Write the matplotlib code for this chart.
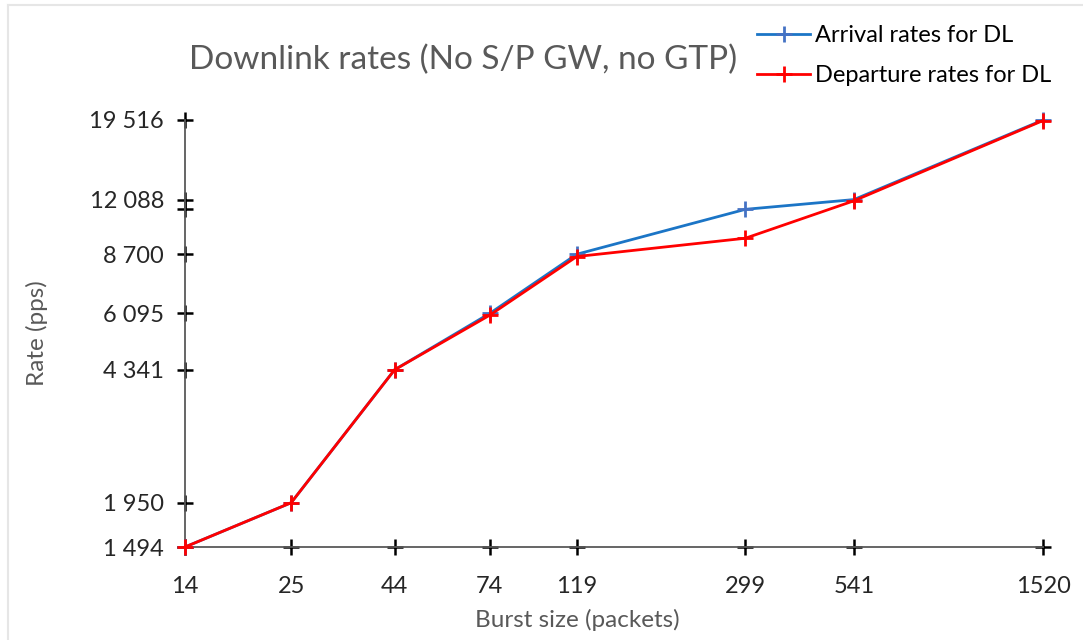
import matplotlib
matplotlib.use('Agg')
import matplotlib.pyplot as plt
from matplotlib.lines import Line2D

plt.rcParams['font.family'] = ['Lato', 'DejaVu Sans']

burst_sizes = [14, 25, 44, 74, 119, 299, 541, 1520]
arrival_rates = [1494, 1950, 4341, 6095, 8700, 11400, 12088, 19516]
departure_rates = [1494, 1950, 4341, 6030, 8580, 9580, 12000, 19450]
y_ticks = [1494, 1950, 4341, 6095, 8700, 11400, 12088, 19516]
y_tick_labels = ['1 494', '1 950', '4 341', '6 095', '8 700', '', '12 088', '19 516']

TEXT_GREY = '#595959'
W, H = 1083, 640

fig = plt.figure(figsize=(W / 100, H / 100), dpi=100)
ax = fig.add_axes([185 / W, 1 - 547 / H, (1043 - 185) / W, (547 - 120) / H])

ax.set_xscale('log')
ax.set_yscale('log')
ax.set_xlim(burst_sizes[0], burst_sizes[-1])
ax.set_ylim(y_ticks[0], y_ticks[-1])

ax.plot(burst_sizes, arrival_rates, color='#1B75C6', lw=2.0, marker='+',
        ms=12, mew=2, mec='#4472C4', label='Arrival rates for DL',
        clip_on=False, zorder=3)
ax.plot(burst_sizes, departure_rates, color='#FF0000', lw=2.0, marker='+',
        ms=12, mew=2, label='Departure rates for DL', clip_on=False, zorder=4)

# axis lines, ticks drawn as crosses like Excel
for s in ['top', 'right']:
    ax.spines[s].set_visible(False)
for s in ['left', 'bottom']:
    ax.spines[s].set_color(TEXT_GREY)
    ax.spines[s].set_linewidth(1.3)

ax.set_xticks(burst_sizes)
ax.set_xticklabels([str(b) for b in burst_sizes])
ax.set_yticks(y_ticks)
ax.set_yticklabels(y_tick_labels)
ax.minorticks_off()
ax.tick_params(axis='both', length=0, labelsize=17, colors='#262626')
ax.tick_params(axis='y', pad=15)
ax.tick_params(axis='x', pad=21)

ax.plot(burst_sizes, [y_ticks[0]] * len(burst_sizes), ls='none', marker='+',
        ms=12, mew=1.8, color='black', clip_on=False, zorder=2)
ax.plot([burst_sizes[0]] * len(y_ticks), y_ticks, ls='none', marker='+',
        ms=12, mew=1.8, color='black', clip_on=False, zorder=2)

ax.set_xlabel('Burst size (packets)', fontsize=17.5, color=TEXT_GREY)
ax.xaxis.set_label_coords((577 - 185) / (1043 - 185), -(620 - 547) / (547 - 120))
ax.xaxis.label.set_va('center')
ax.set_ylabel('Rate (pps)', fontsize=17.5, color=TEXT_GREY)
ax.yaxis.set_label_coords(-(185 - 37) / (1043 - 185), 0.5)
ax.yaxis.label.set_va('center')

fig.text(463 / W, 1 - 60 / H, 'Downlink rates (No S/P GW, no GTP)',
         fontsize=24, color=TEXT_GREY, ha='center', va='center')

ax.legend(loc='upper left', bbox_to_anchor=(736 / W, 1 - 4 / H),
          bbox_transform=fig.transFigure, frameon=False, fontsize=17,
          handlelength=2.25, handletextpad=0.2, labelspacing=0.8)

# faint chart border
fig.add_artist(Line2D([8 / W, 8 / W], [0, 1 - 5 / H], color='#E6E6E6', lw=1.5))
fig.add_artist(Line2D([8 / W, 1], [1 - 5 / H, 1 - 5 / H], color='#E6E6E6', lw=1.5))

fig.savefig('out.png', dpi=100)
